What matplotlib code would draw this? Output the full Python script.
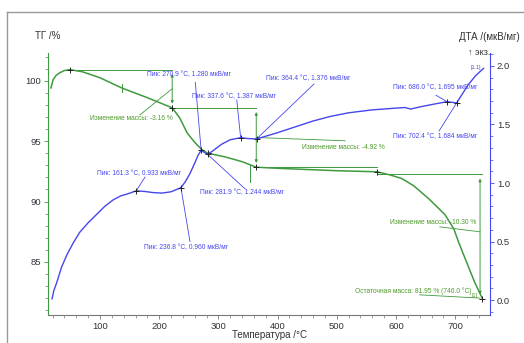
import numpy as np
import matplotlib
matplotlib.use("Agg")
import matplotlib.pyplot as plt
from matplotlib.lines import Line2D
from matplotlib.ticker import MultipleLocator

plt.rcParams['font.family'] = ['Liberation Sans', 'DejaVu Sans']

# TG curve (mass, %)
tg_temp = [17, 21, 26, 32, 40, 49, 70, 100, 137, 180, 222, 235, 247, 260, 272, 282,
           311, 340, 364, 400, 450, 500, 568, 590, 610, 630, 656, 683, 698, 706,
           717, 733, 746]
tg_mass = [99.4, 100.1, 100.45, 100.66, 100.85, 100.92, 100.75, 100.25, 99.4, 98.6,
           97.76, 96.9, 95.7, 94.9, 94.3, 94.0, 93.7, 93.3, 92.84, 92.75, 92.65,
           92.55, 92.46, 92.2, 91.9, 91.3, 90.2, 88.9, 87.7, 86.6, 85.25, 83.3, 81.95]

# DTA curve (мкВ/мг)
dta_temp = [19, 22, 27, 35, 44, 55, 66, 80, 95, 108, 122, 135, 146, 161.3, 175, 190,
            205, 220, 236.8, 244, 252, 260, 266, 270.9, 276, 281.9, 292, 305, 320,
            337.6, 350, 364.4, 380, 400, 430, 460, 490, 520, 560, 600, 615, 625,
            640, 660, 686.0, 702.4, 712, 722, 735, 748]
dta_val = [0.01, 0.08, 0.15, 0.28, 0.385, 0.49, 0.58, 0.66, 0.735, 0.80, 0.855, 0.89,
           0.906, 0.933, 0.928, 0.918, 0.914, 0.925, 0.960, 1.01, 1.08, 1.17, 1.24,
           1.280, 1.262, 1.244, 1.28, 1.33, 1.37, 1.387, 1.38, 1.376, 1.40, 1.43,
           1.48, 1.53, 1.57, 1.60, 1.625, 1.64, 1.645, 1.632, 1.65, 1.67, 1.695,
           1.684, 1.76, 1.84, 1.92, 1.98]

# DTA peaks
peak_temp = [161.3, 236.8, 270.9, 281.9, 337.6, 364.4, 686.0, 702.4]
peak_val = [0.933, 0.960, 1.280, 1.244, 1.387, 1.376, 1.695, 1.684]

# TG mass steps
step_start = [49, 222, 364]
step_end = [222, 364, 746]
step_change = [-3.16, -4.92, -10.30]
residual_mass = 81.95
residual_temp = 746.0

GREEN = '#3f9a3f'
GTXT = '#4f9a2a'
BLUE = '#4646ee'
GREY = '#333333'

fig = plt.figure(figsize=(5.24, 3.43), dpi=100)
ax = fig.add_axes([48/524, 28/343, 442/524, 262/343])
ax2 = ax.twinx()

ax.set_xlim(12.2, 758.8)
ax.set_ylim(80.6, 102.3)
ax2.set_ylim(-0.128, 2.111)

ax.plot(tg_temp, tg_mass, color=GREEN, lw=1.1, zorder=3)
ax2.plot(dta_temp, dta_val, color=BLUE, lw=1.0, zorder=3)

# spines / ticks
for a in (ax, ax2):
    a.spines['top'].set_visible(False)
ax.spines['right'].set_visible(False)
ax2.spines['left'].set_visible(False)
ax2.spines['bottom'].set_visible(False)
ax.spines['left'].set_color(GREEN)
ax.spines['bottom'].set_color('#777777')
ax2.spines['right'].set_color(BLUE)
for s in ('left', 'bottom'):
    ax.spines[s].set_linewidth(0.8)
ax2.spines['right'].set_linewidth(0.8)

ax.xaxis.set_major_locator(MultipleLocator(100))
ax.xaxis.set_minor_locator(MultipleLocator(20))
ax.yaxis.set_major_locator(MultipleLocator(5))
ax.yaxis.set_minor_locator(MultipleLocator(1))
ax2.yaxis.set_major_locator(MultipleLocator(0.5))
ax2.yaxis.set_minor_locator(MultipleLocator(0.1))

ax.tick_params(axis='x', which='major', length=3, width=0.6, color='#777777',
               labelsize=6.8, labelcolor=GREY, pad=2)
ax.tick_params(axis='x', which='minor', length=2, width=0.5, color='#777777')
ax.tick_params(axis='y', which='major', length=3, width=0.6, color=GREEN,
               labelsize=6.8, labelcolor=GREY, pad=2)
ax.tick_params(axis='y', which='minor', length=2, width=0.5, color=GREEN)
ax2.tick_params(axis='y', which='major', length=3, width=0.6, color=BLUE,
                labelsize=6.8, labelcolor=GREY, pad=2)
ax2.tick_params(axis='y', which='minor', length=2, width=0.5, color=BLUE)
ax2.yaxis.set_major_formatter(matplotlib.ticker.FormatStrFormatter('%.1f'))

# mass step reference lines and arrows
tg_interp = lambda t: np.interp(t, tg_temp, tg_mass)
levels = [tg_interp(step_start[0])]
for c in step_change:
    levels.append(levels[-1] + c)
ax.plot([step_start[0], step_start[1]], [levels[0], levels[0]], color=GREEN, lw=0.7)
ax.plot([step_start[1], step_start[2]], [levels[1], levels[1]], color=GREEN, lw=0.7)
ax.plot([step_start[2], 568], [levels[2], levels[2]], color=GREEN, lw=0.7)
ax.plot([568, step_end[2]], [residual_mass - step_change[2], residual_mass - step_change[2]],
        color=GREEN, lw=0.7)
arrow_x = [step_end[0], step_end[1], 742]
arrow_top = [levels[0], levels[1], residual_mass - step_change[2]]
arrow_bot = [levels[1], levels[2], residual_mass]
for xa, yt, yb in zip(arrow_x, arrow_top, arrow_bot):
    ax.annotate('', xy=(xa, yb), xytext=(xa, yt),
                arrowprops=dict(arrowstyle='<|-|>', color=GREEN, lw=0.7,
                                mutation_scale=4, shrinkA=3, shrinkB=3))

# small inflection ticks on TG
ax.plot([137, 137], [99.1, 99.7], color=GREEN, lw=0.7)
ax.plot([353, 353], [91.6, 93.0], color=GREEN, lw=0.7)

# crosses
ax.plot([49, 222, 282, 364, 568, residual_temp],
        [tg_interp(t) for t in [49, 222, 282, 364, 568, residual_temp]],
        '+', color='#222222', ms=5, mew=0.7, zorder=4)
ax2.plot(peak_temp, peak_val, '+', color='#222222', ms=5, mew=0.7, zorder=4)

# peak labels
peak_text = [(95, 1.077), (174, 0.445), (179, 1.93), (269, 0.915),
             (256, 1.735), (380.5, 1.89), (595, 1.82), (595, 1.40)]
peak_lead = [(176, 1.05), (252, 0.50), (261, 1.86), (345, 0.95),
             (331, 1.71), (461.5, 1.846), (667.6, 1.75), (672.7, 1.444)]
for t, v, (tx, ty), (lx, ly) in zip(peak_temp, peak_val, peak_text, peak_lead):
    ax2.text(tx, ty, f'Пик: {t:.1f} °C, {v:.3f} мкВ/мг', color=BLUE, fontsize=4.8,
             ha='left', va='center', zorder=5)
    ax2.plot([lx, t], [ly, v], color=BLUE, lw=0.6, zorder=2)

# mass change labels
ax.text(83, 96.85, f'Изменение массы: {step_change[0]:.2f} %', color=GTXT, fontsize=4.8,
        ha='left', va='center')
ax.plot([167.6, step_end[0]], [97.18, (levels[0] + levels[1]) / 2], color=GREEN, lw=0.6)
ax.text(441, 94.45, f'Изменение массы: {step_change[1]:.2f} %', color=GTXT, fontsize=4.8,
        ha='left', va='center')
ax.plot([step_end[1], 514], [(levels[1] + levels[2]) / 2, 95.03], color=GREEN, lw=0.6)
ax.text(590, 88.24, f'Изменение массы: {step_change[2]:.2f} %', color=GTXT, fontsize=4.8,
        ha='left', va='center')
ax.plot([674, 742], [87.9, 87.49], color=GREEN, lw=0.6)
ax.text(531, 82.6, f'Остаточная масса: {residual_mass:.2f} % ({residual_temp:.1f} °C)',
        color=GTXT, fontsize=4.8, ha='left', va='center')
ax.plot([640, 742], [82.27, 82.0], color=GREEN, lw=0.6)
ax.text(738, 82.25, '[1]', color=GTXT, fontsize=3.8, ha='right', va='center')
ax2.text(735, 1.99, '[1.1]', color=BLUE, fontsize=3.8, ha='center', va='center')

# axis titles
fig.text(35/524, 1 - 36/343, 'ТГ /%', fontsize=7, color=GREY, ha='left', va='center')
fig.text(520/524, 1 - 37/343, 'ДТА /(мкВ/мг)', fontsize=7, color=GREY, ha='right', va='center')
fig.text(468/524, 1 - 52/343, '↑ экз.', fontsize=6.5, color=GREY, ha='left', va='center')
fig.text(269/524, 1 - 335/343, 'Температура /°C', fontsize=7, color=GREY, ha='center',
         va='center')

# outer frame
fig.add_artist(Line2D([7/524, 7/524], [0, 1 - 12/343], transform=fig.transFigure,
                      color='#999999', lw=1.0))
fig.add_artist(Line2D([7/524, 1], [1 - 12/343, 1 - 12/343], transform=fig.transFigure,
                      color='#999999', lw=1.0))

fig.savefig('out.png', dpi=100)
